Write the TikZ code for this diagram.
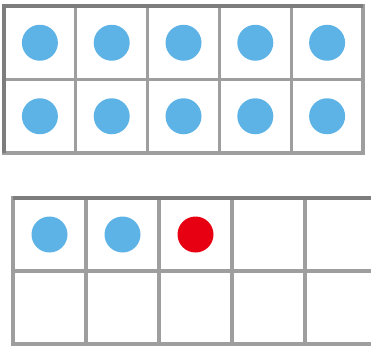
\documentclass[tikz,border=0pt]{standalone}
\usepackage{xcolor}
\usepackage{tikz}
\usetikzlibrary{positioning}
\definecolor{dotblue}{RGB}{93,179,230}
\definecolor{dotred}{RGB}{230,0,18}
\definecolor{linegray}{RGB}{158,158,158}
\definecolor{edgegray}{RGB}{125,125,125}
\tikzstyle{cell}    = [rectangle, draw=linegray, line width=3.2pt, inner sep=0pt, outer sep=0pt]
\tikzstyle{topcell} = [cell, minimum width=71.8pt, minimum height=73.5pt]
\tikzstyle{lowcell} = [cell, minimum width=73pt, minimum height=73pt]
\tikzstyle{counter} = [circle, minimum size=36pt, inner sep=0pt]
\tikzstyle{edge}    = [draw=edgegray, line width=3.2pt]

\begin{document}
\begin{tikzpicture}[x=1pt, y=-1pt]
\useasboundingbox (0,0) rectangle (371,346);
\clip (0,0) rectangle (371,346);

% full frame on top
\foreach \r in {1,2} {
  \foreach \c in {1,...,5} {
    \node (top-\r-\c) [topcell] at ({4+71.8*(\c-0.5)}, {6+73.5*(\r-0.5)}) {};
    \node (dtop-\r-\c) [counter, fill=dotblue] at (top-\r-\c) {};
  }
}
\draw [edge] (top-2-1.south west) -- (top-1-1.north west) -- (top-1-5.north east);

% second frame, three counters
\foreach \r in {1,2} {
  \foreach \c in {1,...,5} {
    \node (low-\r-\c) [lowcell] at ({13+73*(\c-0.5)}, {198+73*(\r-0.5)}) {};
  }
}
\draw [edge] (low-1-1.north west) -- (low-1-5.north east);

\node (dlow-1) [counter, fill=dotblue] at (low-1-1) {};
\node (dlow-2) [counter, fill=dotblue] at (low-1-2) {};
\node (dlow-3) [counter, fill=dotred] at (low-1-3) {};

\end{tikzpicture}
\end{document}
